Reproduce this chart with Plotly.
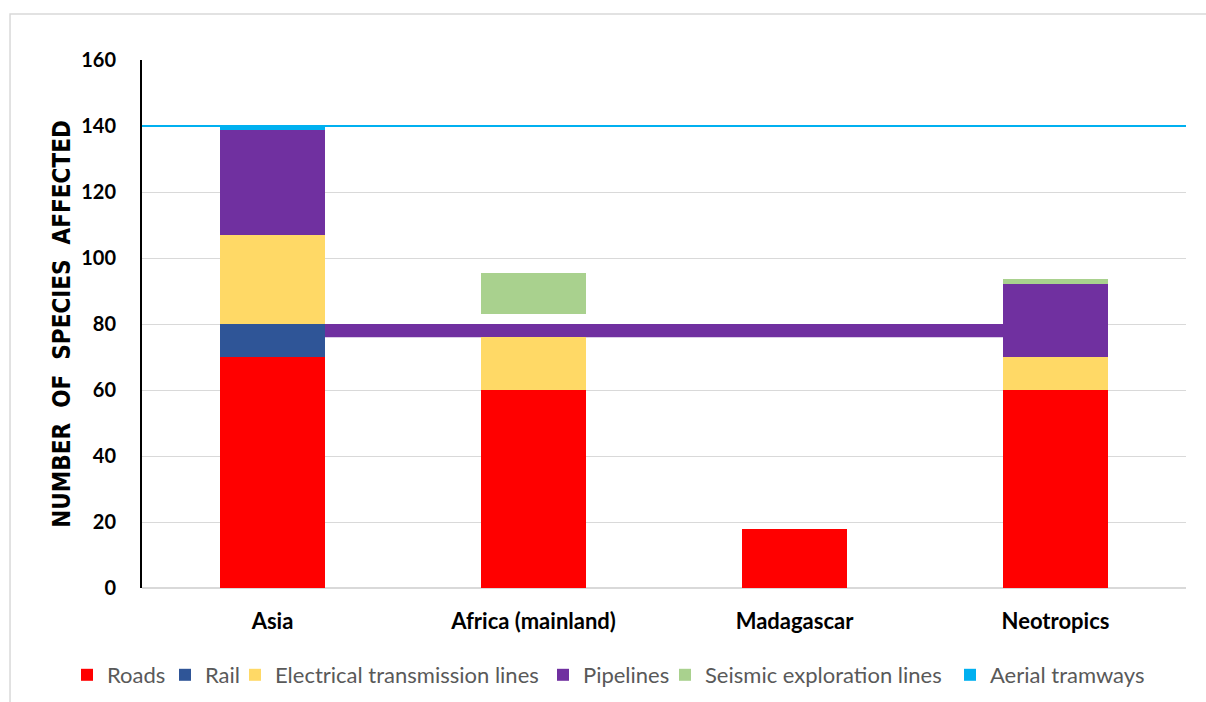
import plotly.graph_objects as go

categories = ["Asia", "Africa (mainland)", "Madagascar", "Neotropics"]

roads = [70, 60, 18, 60]
rail = [10, 0, 0, 0]
electrical = [27, 16, 0, 10]
pipelines = [32, 4, 0, 22]
gap = [0, 3, 0, 0]
seismic = [0, 12.5, 0, 1.5]
aerial = [0.6, 0, 0, 0]

pipeline_band = [76, 80]
aerial_level = 140

y_ticks = [0, 20, 40, 60, 80, 100, 120, 140, 160]

# (name, values, colour, legend id, legend text start px)
series = [
    ("Roads", roads, "#FF0000", "legend", 107),
    ("Rail", rail, "#2F5597", "legend2", 205),
    ("Electrical transmission lines", electrical, "#FFD966", "legend3", 275),
    ("Pipelines", pipelines, "#7030A0", "legend4", 583),
    ("gap", gap, "rgba(0,0,0,0)", None, None),
    ("Seismic exploration lines", seismic, "#A9D18E", "legend5", 705),
    ("Aerial tramways", aerial, "#00B0F0", "legend6", 990),
]

W, H = 1206, 702

fig = go.Figure()
legend_layout = {}
for name, vals, color, leg, tx in series:
    kw = {}
    if leg:
        kw["legend"] = leg
        legend_layout[leg] = dict(
            orientation="h", xref="container", yref="container",
            x=(tx - 40) / W, xanchor="left", y=1 - 675 / H, yanchor="middle",
            font=dict(size=22, color="#595959", family="Lato, Liberation Sans, sans-serif"),
            itemwidth=30, itemclick=False, itemdoubleclick=False,
            bgcolor="rgba(0,0,0,0)", borderwidth=0,
        )
    fig.add_trace(go.Bar(
        x=categories, y=vals, name=name,
        marker=dict(color=color, line=dict(width=0)),
        showlegend=bool(leg),
        hoverinfo="skip" if not leg else None,
        **kw,
    ))

# band between bars (pipelines)
fig.add_shape(type="rect", xref="x", yref="y",
              x0=0, x1=3, y0=pipeline_band[0], y1=pipeline_band[1],
              fillcolor="#7030A0", line=dict(width=0), layer="between")
# aerial tramway line
fig.add_shape(type="line", xref="paper", yref="y",
              x0=0, x1=1, y0=aerial_level, y1=aerial_level,
              line=dict(color="#00B0F0", width=2), layer="above")
# outer chart border
fig.add_shape(type="rect", xref="paper", yref="paper",
              x0=-0.1264, x1=1.05, y0=-0.25, y1=1.087,
              line=dict(color="#D9D9D9", width=1.5), fillcolor="rgba(0,0,0,0)",
              layer="below")

fig.update_layout(
    width=W, height=H,
    margin=dict(l=142, r=20, t=60, b=114, autoexpand=False),
    paper_bgcolor="white", plot_bgcolor="white",
    barmode="stack", bargap=0.6,
    font=dict(family="Lato, Liberation Sans, sans-serif", color="black"),
    showlegend=True,
    **legend_layout,
)

fig.update_xaxes(
    showgrid=False, showline=False, ticks="",
    tickfont=dict(size=22, family="Lato, Liberation Sans, sans-serif", color="black", weight="bold"),
    ticklabelstandoff=18,
)
fig.update_yaxes(
    range=[0, 160], tickvals=y_ticks,
    showgrid=True, gridcolor="#D9D9D9", gridwidth=1.3,
    zeroline=True, zerolinecolor="#D9D9D9", zerolinewidth=1.5,
    showline=True, linecolor="black", linewidth=2,
    ticks="", ticklabelstandoff=20,
    tickfont=dict(size=20, family="Lato, Liberation Sans, sans-serif", color="black", weight="bold"),
    title=dict(text="NUMBER  OF  SPECIES  AFFECTED", standoff=4,
               font=dict(size=24, family="Liberation Sans Narrow, Arial Narrow, DejaVu Sans Condensed, sans-serif",
                         color="black", weight="bold")),
)

fig.write_html("out.html", config={"displayModeBar": False},
               post_script="document.body.style.margin='0';document.body.style.overflow='hidden';")
